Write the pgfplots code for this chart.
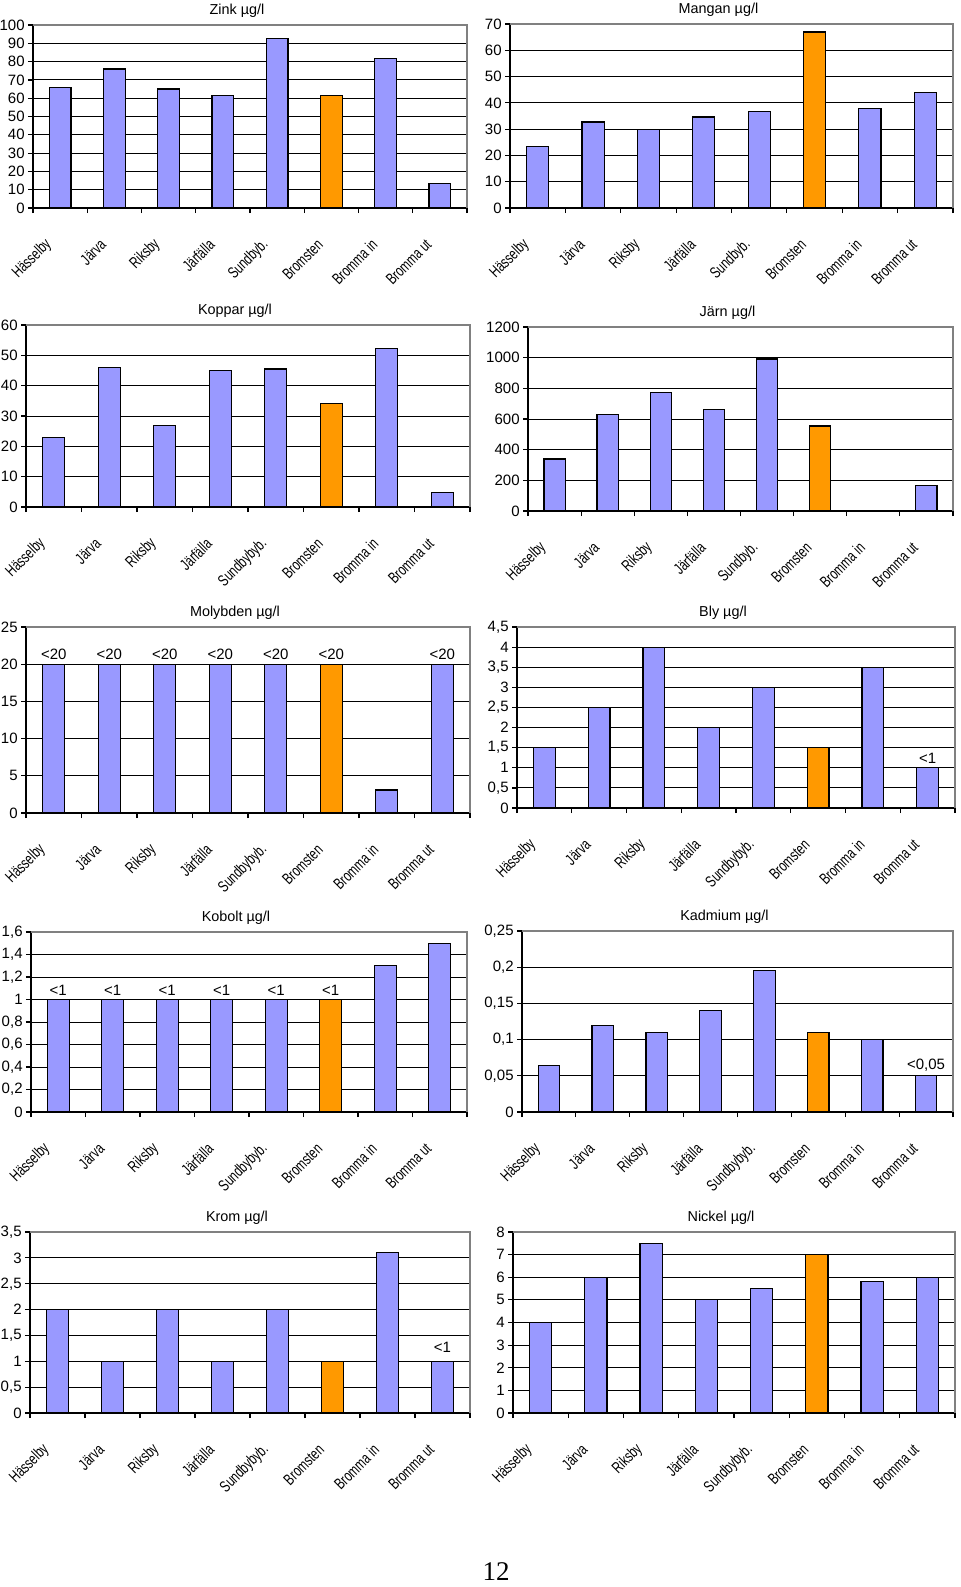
\documentclass[border=0pt]{standalone}
\usepackage{fontspec}
\setmainfont{Liberation Sans}
\newfontfamily\pagenumfont{Liberation Serif}
\usepackage{graphicx}
\usepackage{pgfplots}
\pgfplotsset{compat=1.18}
\definecolor{barblue}{HTML}{9999FF}
\definecolor{barorange}{HTML}{FF9900}
\newcommand\tickfont{\fontsize{7.5}{8.5}\selectfont}
\newcommand\titlefont{\fontsize{7.2}{8.5}\selectfont}
\newcommand\xl[1]{\scalebox{0.72}[1]{#1}}
\pgfplotsset{
  myax/.style={
    scale only axis, anchor=south west, clip=false,
    xmin=0.5, xmax=8.5, ymin=0,
    axis lines=left, axis line style={-, black, line width=0.6pt},
    xtick={1,...,8}, minor xtick={0.5,1.5,...,8.5},
    major x tick style={draw=none}, minor x tick style={black, line width=0.6pt},
    ytick style={black, line width=0.6pt},
    tick align=outside, major tick length=2.5pt, minor tick length=2.5pt,
    ymajorgrids, grid style={black, line width=0.5pt},
    tick label style={font=\tickfont},
    yticklabel style={inner sep=1.5pt},
    xticklabel style={font=\fontsize{8}{9}\selectfont, xshift=-5.5pt, yshift=-14.5pt, rotate=45, anchor=east, inner sep=0pt},
    title style={font=\titlefont, at={(0.5,1)}, anchor=base, yshift=-0.5pt, xshift=-6.5pt},
  },
  namesA/.style={xticklabels={\xl{Hässelby},\xl{Järva},\xl{Riksby},\xl{Järfälla},\xl{Sundbyb.},\xl{Bromsten},\xl{Bromma in},\xl{Bromma ut}}},
  namesB/.style={xticklabels={\xl{Hässelby},\xl{Järva},\xl{Riksby},\xl{Järfälla},\xl{Sundbybyb.},\xl{Bromsten},\xl{Bromma in},\xl{Bromma ut}}},
  bl/.style={ybar, bar shift=0pt, bar width=0.4, fill=barblue, draw=black, line width=0.6pt},
  orb/.style={ybar, bar shift=0pt, bar width=0.4, fill=barorange, draw=black, line width=0.6pt},
  lab/.style={only marks, mark=*, mark size=0pt, mark options={draw=none, fill=none},
    nodes near coords, point meta=explicit symbolic,
    nodes near coords style={font=\tickfont, anchor=south, inner sep=2pt, text=black}},
}
\newcommand\frameGray{\draw[gray, line width=0.6pt] (rel axis cs:0,1) -- (rel axis cs:1,1) -- (rel axis cs:1,0);}
\begin{document}
\begin{tikzpicture}
\useasboundingbox (0,0) rectangle (480pt,-793.5pt);

% Zink
\begin{axis}[myax, namesA, at={(16.5pt,-104pt)}, width=217pt, height=91.5pt,
  ymax=100, ytick={0,10,...,100}, yticklabels={0,10,20,30,40,50,60,70,80,90,100},
  title={Zink µg/l}]
\addplot[bl] coordinates {(1,66) (2,76) (3,65) (4,61.5) (5,92.5) (7,81.5) (8,13.5)};
\addplot[orb] coordinates {(6,61.5)};
\frameGray
\end{axis}

% Mangan
\begin{axis}[myax, namesA, at={(255pt,-104pt)}, width=221.5pt, height=92pt,
  ymax=70, ytick={0,10,...,70}, yticklabels={0,10,20,30,40,50,60,70},
  title={Mangan µg/l}]
\addplot[bl] coordinates {(1,23.3) (2,32.7) (3,30) (4,34.6) (5,36.6) (7,37.8) (8,44)};
\addplot[orb] coordinates {(6,67)};
\frameGray
\end{axis}

% Koppar
\begin{axis}[myax, namesB, at={(13pt,-253.5pt)}, width=222pt, height=91pt,
  ymax=60, ytick={0,10,...,60}, yticklabels={0,10,20,30,40,50,60},
  title={Koppar  µg/l}]
\addplot[bl] coordinates {(1,23) (2,46) (3,26.8) (4,45) (5,45.5) (7,52.2) (8,4.8)};
\addplot[orb] coordinates {(6,34)};
\frameGray
\end{axis}

% Jarn
\begin{axis}[myax, namesA, at={(264pt,-255.5pt)}, width=212.5pt, height=92pt,
  ymax=1200, ytick={0,200,...,1200}, yticklabels={0,200,400,600,800,1000,1200},
  title={Järn µg/l}]
\addplot[bl] coordinates {(1,339) (2,630) (3,774) (4,663) (5,991) (8,165)};
\addplot[orb] coordinates {(6,554)};
\frameGray
\end{axis}

% Molybden
\begin{axis}[myax, namesB, at={(13pt,-406.5pt)}, width=222pt, height=93pt,
  ymax=25, ytick={0,5,...,25}, yticklabels={0,5,10,15,20,25},
  title={Molybden µg/l}]
\addplot[bl] coordinates {(1,20) (2,20) (3,20) (4,20) (5,20) (7,3.1) (8,20)};
\addplot[orb] coordinates {(6,20)};
\addplot[lab] coordinates {(1,20) [<20] (2,20) [<20] (3,20) [<20] (4,20) [<20] (5,20) [<20] (6,20) [<20] (8,20) [<20]};
\frameGray
\end{axis}

% Bly
\begin{axis}[myax, namesB, at={(258.5pt,-404pt)}, width=219pt, height=90.5pt,
  ymax=4.5, ytick={0,0.5,...,4.5}, yticklabels={0,{0,5},1,{1,5},2,{2,5},3,{3,5},4,{4,5}},
  title={Bly µg/l}]
\addplot[bl] coordinates {(1,1.5) (2,2.5) (3,4) (4,2) (5,3) (7,3.5) (8,1)};
\addplot[orb] coordinates {(6,1.5)};
\addplot[lab] coordinates {(8,1) [<1]};
\frameGray
\end{axis}

% Kobolt
\begin{axis}[myax, namesB, at={(15.5pt,-556pt)}, width=218pt, height=90pt,
  ymax=1.6, ytick={0,0.2,0.4,0.6,0.8,1,1.2,1.4,1.6}, yticklabels={0,{0,2},{0,4},{0,6},{0,8},1,{1,2},{1,4},{1,6}},
  title={Kobolt µg/l}]
\addplot[bl] coordinates {(1,1) (2,1) (3,1) (4,1) (5,1) (7,1.3) (8,1.5)};
\addplot[orb] coordinates {(6,1)};
\addplot[lab] coordinates {(1,1) [<1] (2,1) [<1] (3,1) [<1] (4,1) [<1] (5,1) [<1] (6,1) [<1]};
\frameGray
\end{axis}

% Kadmium
\begin{axis}[myax, namesB, at={(261pt,-556pt)}, width=215.5pt, height=90.5pt,
  ymax=0.25, ytick={0,0.05,0.1,0.15,0.2,0.25}, yticklabels={0,{0,05},{0,1},{0,15},{0,2},{0,25}},
  title={Kadmium  µg/l}]
\addplot[bl] coordinates {(1,0.064) (2,0.12) (3,0.11) (4,0.14) (5,0.195) (7,0.1) (8,0.05)};
\addplot[orb] coordinates {(6,0.11)};
\addplot[lab] coordinates {(8,0.05) [<0,05]};
\frameGray
\end{axis}

% Krom
\begin{axis}[myax, namesB, at={(15pt,-706.5pt)}, width=220pt, height=90.5pt,
  ymax=3.5, ytick={0,0.5,...,3.5}, yticklabels={0,{0,5},1,{1,5},2,{2,5},3,{3,5}},
  title={Krom µg/l}]
\addplot[bl] coordinates {(1,2) (2,1) (3,2) (4,1) (5,2) (7,3.1) (8,1)};
\addplot[orb] coordinates {(6,1)};
\addplot[lab, nodes near coords style={inner sep=4pt}] coordinates {(8,1) [<1]};
\frameGray
\end{axis}

% Nickel
\begin{axis}[myax, namesB, at={(256.5pt,-706.5pt)}, width=221pt, height=90.5pt,
  ymax=8, ytick={0,1,...,8}, yticklabels={0,1,2,3,4,5,6,7,8},
  title={Nickel  µg/l}]
\addplot[bl] coordinates {(1,4) (2,6) (3,7.5) (4,5) (5,5.5) (7,5.8) (8,6)};
\addplot[orb] coordinates {(6,7)};
\frameGray
\end{axis}

\node[font=\pagenumfont\fontsize{13.5}{15}\selectfont] at (248pt,-786pt) {12};
\end{tikzpicture}
\end{document}
